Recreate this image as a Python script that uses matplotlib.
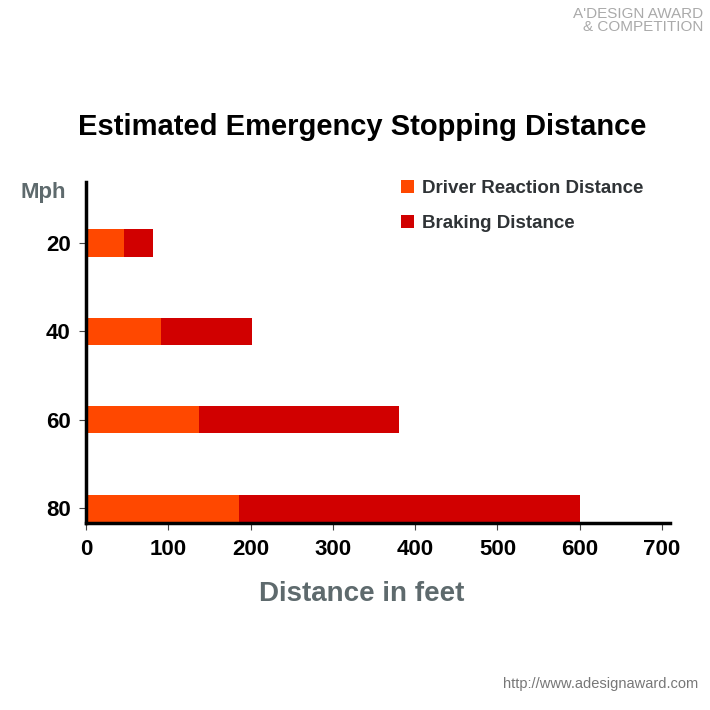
import matplotlib.pyplot as plt

plt.rcParams['font.family'] = ['Liberation Sans', 'DejaVu Sans']

# speeds and distances (feet)
speeds = ["20", "40", "60", "80"]
reaction = [46, 91, 138, 186]
braking = [35, 111, 242, 414]
xticks = [0, 100, 200, 300, 400, 500, 600, 700]

reaction_color = "#FF4800"
braking_color = "#D10000"
gray = "#5E6A6D"

fig = plt.figure(figsize=(7.1, 7.1), dpi=100)
ax = fig.add_axes([0.121, 0.263, 0.823, 0.481])

pos = list(range(len(speeds)))
ax.barh(pos, reaction, height=0.31, color=reaction_color, label="Driver Reaction Distance")
ax.barh(pos, braking, left=reaction, height=0.31, color=braking_color, label="Braking Distance")

ax.set_xlim(0, 710)
ax.set_ylim(3.17, -0.69)
ax.set_yticks(pos)
ax.set_yticklabels(speeds, fontsize=16, fontweight="bold")
ax.set_xticks(xticks)
ax.set_xticklabels([str(t) for t in xticks], fontsize=16, fontweight="bold")

for s in ["top", "right"]:
    ax.spines[s].set_visible(False)
for s in ["left", "bottom"]:
    ax.spines[s].set_linewidth(2.5)
    ax.spines[s].set_color("black")
ax.tick_params(axis="both", length=5, width=0.8, color="#444444", pad=6)

ax.set_xlabel("Distance in feet", fontsize=20, fontweight="bold", color=gray)
ax.xaxis.set_label_coords(0.472, -0.168)
fig.text(0.061, 0.729, "Mph", fontsize=16, fontweight="bold", color=gray, ha="center", va="center")

fig.suptitle("Estimated Emergency Stopping Distance", x=0.51, y=0.821, fontsize=21,
             fontweight="bold", va="center")

leg = ax.legend(loc="upper left", bbox_to_anchor=(0.51, 1.055), frameon=False,
                fontsize=13.5, handlelength=0.7, handleheight=0.7, handletextpad=0.45,
                labelspacing=0.95)
for t in leg.get_texts():
    t.set_fontweight("bold")
    t.set_color("#2F3336")

# watermark texts
fig.text(0.99, 0.99, "A'DESIGN AWARD\n& COMPETITION", fontsize=11, color="#AAAAAA",
         ha="right", va="top", linespacing=0.9)
fig.text(0.983, 0.037, "http://www.adesignaward.com", fontsize=10.5, color="#777777",
         ha="right", va="center")

fig.savefig("out.png", dpi=100)
